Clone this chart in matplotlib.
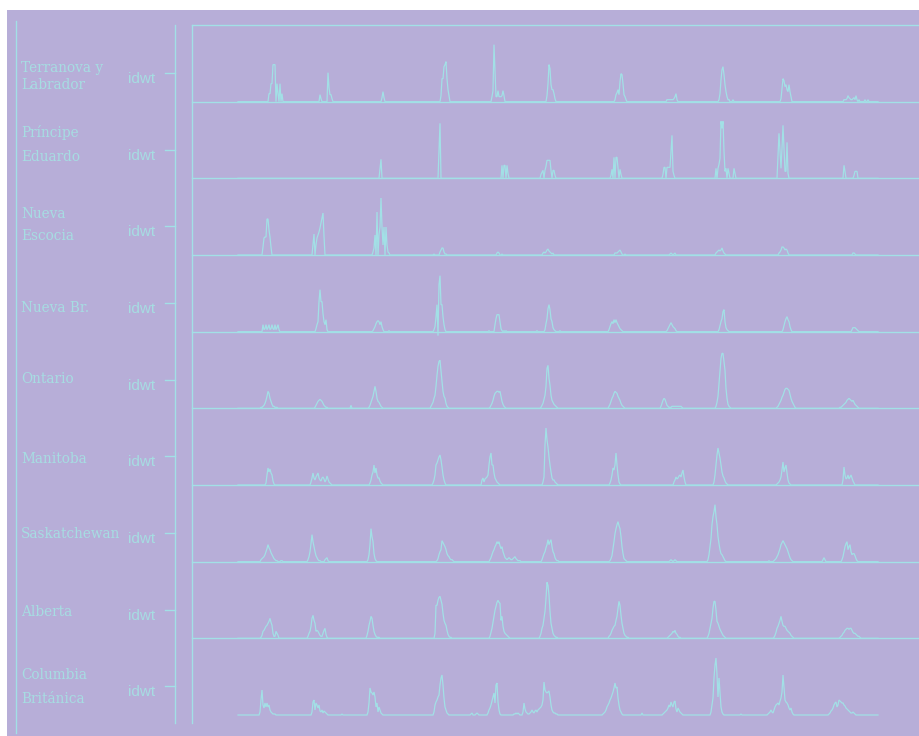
import numpy as np
import matplotlib
matplotlib.use("Agg")
import matplotlib.pyplot as plt
from matplotlib.lines import Line2D
from matplotlib.patches import Rectangle

# ---------------- data ----------------
provinces = [["Terranova y", "Labrador"], ["Príncipe", "Eduardo"], ["Nueva", "Escocia"],
             ["Nueva Br."], ["Ontario"], ["Manitoba"], ["Saskatchewan"], ["Alberta"],
             ["Columbia", "Británica"]]
y_tick_label = "idwt"
n_weeks = 641

# each series: list of (first week, values read week by week)
terranova = [
    (31, [8, 8, 18, 18, 37, 37, 37, 0, 18, 8, 0, 18, 0, 8]),
    (82, [7, 3, 0, 0, 0, 0, 0, 0, 29, 14, 7, 7, 3]),
    (144, [4, 10, 4]),
    (203, [6, 23, 23, 35, 37, 40, 23, 12, 6]),
    (254, [5, 11, 57, 30, 5, 5, 11, 5, 5, 5, 6, 11, 6]),
    (309, [6, 18, 37, 33, 17, 12, 12, 8, 3]),
    (377, [2, 7, 9, 12, 7, 20, 28, 27, 18, 7, 5, 2]),
    (429, [2, 2, 2, 2, 2, 2, 2, 3, 5, 8, 2]),
    (481, [2, 8, 22, 32, 35, 27, 17, 10, 5, 2, 2, 0, 0, 0, 2]),
    (543, [3, 13, 23, 21, 15, 17, 12, 10, 17, 10, 5]),
    (606, [2, 2, 2, 3, 6, 4, 3, 2, 2, 3, 4, 2, 6, 2, 0, 2, 0, 0, 0, 0, 0, 2, 0, 0, 2]),
]
principe = [
    (142, [10, 19]),
    (201, [27, 55]),
    (264, [13, 0, 13, 13, 0, 13, 5]),
    (303, [4, 6, 8, 0, 8, 12, 18, 18, 18, 18, 8, 0, 8, 8, 3]),
    (373, [3, 9, 0, 21, 0, 21, 21, 10, 0, 9, 4]),
    (425, [4, 11, 11, 0, 11, 11, 11, 11, 27, 43, 7, 3]),
    (478, [10, 0, 10, 14, 20, 57, 50, 57, 27, 7, 10, 0, 10, 5, 0, 0, 0, 0, 10, 5]),
    (540, [22, 45, 27, 10, 30, 53, 30, 7, 7, 36, 5]),
    (606, [13, 7]),
    (616, [3, 7, 7, 7]),
]
nueva_escocia = [
    (25, [8, 17, 18, 18, 36, 36, 25, 18, 8]),
    (75, [10, 21, 0, 10, 17, 20, 23, 27, 32, 37, 42, 19]),
    (135, [3, 7, 20, 0, 43, 0, 20, 28, 57, 28, 10, 28, 0, 28, 10, 3, 2]),
    (196, [1, 0, 0, 0, 0, 0, 3, 5, 7, 7, 3, 1, 1]),
    (259, [2, 3, 2, 0, 0, 1]),
    (305, [2, 3, 2, 3, 5, 6, 4, 3, 2, 1, 2]),
    (377, [2, 2, 2, 3, 4, 5, 3, 1, 0, 0, 1]),
    (432, [1, 2, 1, 0, 1, 2]),
    (478, [2, 3, 4, 5, 4, 5, 7, 4, 2, 1]),
    (541, [2, 3, 5, 8, 8, 7, 5, 6, 5, 2]),
    (615, [2, 2, 1]),
]
nueva_br = [
    (25, [7, 2, 3, 7, 2, 4, 7, 2, 3, 7, 3, 2, 7, 2, 4, 7, 2]),
    (78, [3, 7, 10, 30, 42, 30, 30, 18, 10, 7, 12, 2]),
    (135, [1, 3, 5, 8, 10, 11, 10, 7, 10, 5, 2, 0, 0, 0, 0, 0, 1]),
    (196, [2, 5, 15, 27, -4, 47, 56, 27, 27, 15, 7, 2]),
    (251, [1, 0, 0, 0, 0, 0, 7, 13, 17, 17, 17, 10, 3, 1, 0, 1, 0, 1]),
    (299, [1, 0, 0, 0, 0, 0, 0, 0, 2, 8, 13, 23, 27, 22, 13, 10, 4, 2, 1, 0, 0, 0, 0, 1]),
    (371, [2, 5, 8, 10, 8, 12, 9, 12, 9, 7, 5, 3, 2, 1]),
    (429, [1, 3, 5, 7, 9, 7, 5, 4, 3, 1]),
    (481, [2, 6, 10, 13, 20, 22, 10, 4, 2, 1]),
    (545, [2, 6, 10, 13, 15, 12, 10, 5, 2]),
    (614, [2, 4, 4, 4, 3, 2, 1]),
]
ontario = [
    (23, [1, 1, 2, 3, 5, 8, 12, 17, 15, 10, 7, 4, 2, 2, 1, 1, 1]),
    (77, [1, 3, 5, 7, 8, 9, 8, 7, 5, 3, 2, 1, 1]),
    (113, [3]),
    (131, [1, 3, 6, 9, 12, 17, 22, 17, 10, 7, 6, 4, 2, 1]),
    (193, [2, 4, 6, 10, 13, 22, 33, 42, 47, 48, 37, 27, 17, 12, 10, 5, 2, 1]),
    (252, [1, 3, 5, 8, 12, 15, 16, 17, 17, 16, 17, 12, 7, 4, 2, 1]),
    (303, [1, 3, 5, 9, 13, 22, 40, 43, 30, 23, 13, 8, 6, 4, 3, 2, 1]),
    (371, [2, 4, 7, 10, 12, 15, 17, 16, 15, 12, 10, 8, 5, 3, 2, 1]),
    (423, [2, 5, 8, 10, 9, 6, 3, 2, 1, 1, 1, 2, 2, 2, 2, 2, 2, 2, 2, 2, 2, 1]),
    (478, [2, 6, 12, 25, 37, 50, 55, 55, 46, 38, 20, 10, 4, 2, 1]),
    (539, [1, 2, 4, 6, 8, 11, 13, 16, 19, 20, 20, 19, 18, 14, 10, 7, 5, 3, 1]),
    (602, [1, 1, 2, 3, 4, 5, 6, 8, 9, 10, 9, 8, 7, 8, 6, 4, 3, 2, 1]),
]
manitoba = [
    (28, [2, 10, 17, 13, 16, 12, 10, 4, 1]),
    (73, [3, 7, 12, 7, 5, 8, 10, 12, 7, 5, 4, 7, 8, 6, 3, 5, 9, 6, 3, 2, 1]),
    (132, [2, 5, 10, 13, 20, 12, 17, 10, 7, 7, 4, 2, 1]),
    (195, [2, 5, 10, 20, 22, 25, 28, 30, 25, 18, 10, 5, 2]),
    (244, [5, 7, 3, 6, 7, 8, 10, 20, 28, 32, 20, 20, 12, 7, 5, 3, 2, 1]),
    (305, [3, 8, 40, 57, 45, 38, 28, 20, 13, 7, 5, 5, 3, 2, 1]),
    (372, [2, 5, 10, 17, 15, 20, 32, 20, 10, 3, 1]),
    (436, [3, 5, 8, 6, 7, 9, 10, 8, 12, 15, 8, 3]),
    (476, [3, 10, 20, 30, 37, 32, 27, 20, 13, 9, 7, 4, 2, 1]),
    (539, [1, 2, 3, 5, 8, 15, 23, 13, 17, 20, 12, 5, 2, 1]),
    (605, [5, 18, 10, 6, 7, 10, 6, 8, 10, 7, 4, 2]),
]
saskatchewan = [
    (23, [2, 3, 4, 5, 7, 10, 13, 17, 14, 12, 9, 7, 5, 3, 2, 1, 1, 0, 0, 0, 1, 1]),
    (70, [2, 5, 10, 18, 27, 20, 15, 10, 6, 4, 2, 1, 1, 0, 0, 0, 0, 2, 3, 4, 1]),
    (130, [2, 7, 17, 33, 25, 20, 8, 3, 1]),
    (199, [1, 3, 7, 10, 12, 21, 19, 17, 15, 12, 8, 6, 5, 3, 2, 2, 1]),
    (252, [2, 4, 7, 10, 12, 15, 17, 20, 18, 20, 16, 13, 15, 10, 7, 4, 3, 2, 3, 4, 3, 2, 2,
           3, 4, 5, 3, 2, 1, 1, 1]),
    (304, [2, 5, 8, 10, 14, 17, 22, 17, 20, 22, 15, 10, 8, 4, 2, 1, 1]),
    (372, [1, 3, 6, 13, 20, 28, 33, 37, 40, 36, 33, 25, 15, 8, 3, 2, 1]),
    (432, [1, 2, 1, 0, 1, 2, 1]),
    (470, [2, 7, 15, 23, 37, 45, 50, 57, 45, 37, 25, 18, 12, 8, 7, 5, 3, 1]),
    (531, [1, 0, 0, 0, 0, 1, 2, 3, 5, 7, 10, 13, 17, 19, 21, 19, 17, 15, 13, 10, 7, 4, 2, 1]),
    (585, [2, 4, 2]),
    (604, [2, 5, 10, 15, 18, 20, 12, 15, 17, 10, 7, 8, 8, 6, 3, 1]),
]
alberta = [
    (23, [1, 3, 7, 8, 10, 12, 13, 15, 17, 20, 16, 13, 5, 2, 2, 7, 5, 3]),
    (70, [2, 5, 7, 12, 20, 23, 18, 15, 7, 8, 7, 5, 3, 2, 2, 5, 8, 10, 4, 1]),
    (129, [3, 7, 13, 17, 22, 20, 13, 7, 4, 2, 1, 1, 1]),
    (197, [5, 33, 33, 38, 41, 42, 38, 34, 25, 18, 15, 13, 8, 4, 2, 1, 1]),
    (252, [2, 6, 10, 16, 22, 28, 32, 36, 38, 36, 35, 18, 22, 12, 7, 5, 4, 3, 2, 1]),
    (302, [2, 5, 10, 13, 20, 27, 40, 56, 53, 43, 27, 15, 10, 5, 3, 2, 1, 1]),
    (371, [2, 3, 5, 8, 10, 12, 13, 18, 22, 30, 37, 33, 23, 15, 10, 5, 3, 2, 1, 1]),
    (430, [1, 2, 3, 4, 5, 7, 6, 8, 5, 4, 2, 1, 1]),
    (470, [2, 5, 10, 15, 20, 30, 37, 37, 28, 17, 15, 12, 9, 7, 5, 3, 2, 1]),
    (536, [1, 3, 6, 10, 12, 15, 18, 22, 17, 13, 12, 12, 10, 8, 7, 6, 5, 3, 2, 1]),
    (602, [1, 2, 3, 5, 6, 8, 9, 10, 10, 9, 10, 10, 8, 6, 5, 5, 4, 3, 2, 2, 1]),
]
columbia = [
    (22, [3, 15, 25, 10, 7, 12, 8, 12, 8, 10, 5, 3, 2, 1, 1, 1]),
    (74, [3, 13, 15, 5, 12, 10, 7, 10, 4, 3, 5, 2, 4, 3, 2, 1]),
    (104, [1]),
    (130, [3, 12, 27, 23, 22, 20, 23, 18, 8, 12, 3, 8, 5, 2, 1]),
    (196, [3, 10, 13, 15, 18, 20, 30, 37, 40, 30, 17, 8, 5, 2, 1]),
    (233, [1, 2, 0, 0, 0, 1, 2, 1]),
    (250, [2, 5, 7, 10, 14, 18, 22, 12, 30, 32, 13, 5, 1]),
    (276, [1, 1, 2, 1, 2, 1, 0, 0, 0, 3, 12, 6, 3, 2, 1, 1, 2, 3, 5, 3, 2, 4, 5, 3, 5, 6, 7,
           8, 10, 15, 33, 25, 23, 22, 23, 24, 18, 10, 5, 3, 2, 2, 1, 1]),
    (365, [1, 2, 3, 5, 8, 10, 12, 15, 17, 20, 23, 27, 32, 27, 28, 17, 10, 5, 3, 1]),
    (404, [2]),
    (425, [1, 2, 3, 4, 5, 7, 10, 8, 13, 10, 8, 13, 14, 6, 3, 7, 5, 3, 2, 1]),
    (473, [3, 10, 17, 37, 50, 57, 40, 18, 37, 22, 8, 3, 1]),
    (503, [1]),
    (530, [1, 2, 3, 5, 3, 2, 5, 8, 10, 11, 12, 10, 14, 17, 23, 40, 27, 15, 13, 12, 10, 7, 5,
           7, 3, 1]),
    (591, [1, 2, 4, 5, 7, 10, 12, 13, 8, 10, 15, 14, 13, 12, 12, 10, 9, 7, 6, 5, 4, 3, 2, 2,
           3, 2, 1]),
]
series = [terranova, principe, nueva_escocia, nueva_br, ontario, manitoba,
          saskatchewan, alberta, columbia]

# ---------------- layout / style ----------------
W, H = 920, 736
BG = "#b7aed8"
CY = "#a2e0e6"
TXT = "#a6dde2"

def fx(x):
    return x / W

def fy(y):
    return 1 - y / H

fig = plt.figure(figsize=(W / 100, H / 100), dpi=100, facecolor="white")
fig.patches.append(Rectangle((fx(7), 0), 1 - fx(7), fy(10), transform=fig.transFigure,
                             facecolor=BG, edgecolor="none", zorder=-10))

top, ph = 25.0, 690.0 / 9
left_px, right_px = 192, 920
x0_px = 238  # pixel of week 0

for i, segs in enumerate(series):
    vals = np.zeros(n_weeks)
    for start, v in segs:
        vals[start:start + len(v)] = v
    weeks = np.arange(n_weeks)
    ptop = top + i * ph
    ax = fig.add_axes([fx(left_px), fy(ptop + ph), fx(right_px) - fx(left_px), ph / H])
    ax.set_facecolor("none")
    ax.plot(weeks, vals, color=CY, lw=0.9, clip_on=False, solid_joinstyle="miter")
    ax.set_xlim(-(x0_px - left_px), right_px - x0_px)
    ax.set_ylim(0, ph)
    ax.set_xticks([]); ax.set_yticks([])
    for s in ax.spines.values():
        s.set_visible(False)
    if i == 0:
        ax.spines["top"].set_visible(True)
        ax.spines["top"].set_color(CY)
        ax.spines["top"].set_linewidth(1.0)
    if i < len(series) - 1:
        ax.spines["bottom"].set_visible(True)
        ax.spines["bottom"].set_color(CY)
        ax.spines["bottom"].set_linewidth(1.0)

# frame / axis lines
for x, y1, y2 in [(16, 21, 733), (175, 25, 723), (192, 25, 723)]:
    fig.add_artist(Line2D([fx(x), fx(x)], [fy(y1), fy(y2)], transform=fig.transFigure,
                          color=CY, lw=1.0))

# ticks and labels
label_baselines = [[72, 89], [137, 161], [218, 240], [312], [383], [463], [538], [616],
                   [679, 703]]
for i, lines in enumerate(provinces):
    ty = 73 + i * ph
    fig.add_artist(Line2D([fx(165), fx(175)], [fy(ty), fy(ty)], transform=fig.transFigure,
                          color=CY, lw=1.0))
    fig.text(fx(155), fy(ty + 10), y_tick_label, ha="right", va="baseline",
             family="Liberation Sans", fontsize=11, color=TXT)
    for line, b in zip(lines, label_baselines[i]):
        fig.text(fx(21), fy(b), line, ha="left", va="baseline", family="DejaVu Serif",
                 fontsize=9.8, color=TXT)

fig.savefig("out.png", dpi=100, facecolor="white")
